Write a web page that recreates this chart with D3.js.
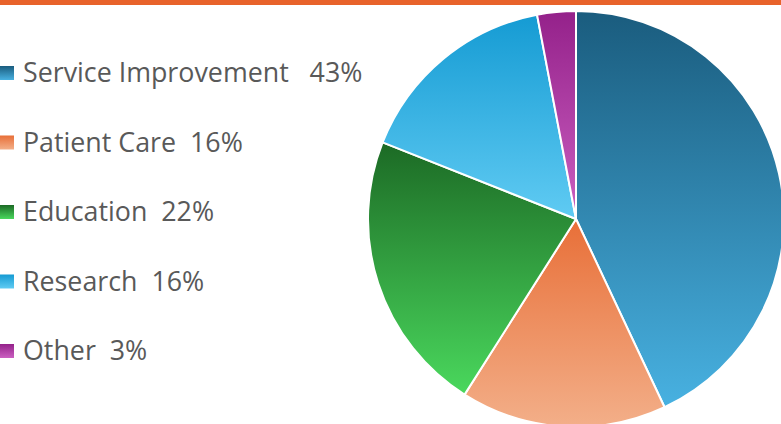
<!DOCTYPE html>
<html>
<head>
<meta charset="utf-8">
<script src="https://cdn.jsdelivr.net/npm/d3@7"></script>
<style>
  html, body { margin: 0; padding: 0; background: #fff; }
  svg { display: block; }
</style>
</head>
<body>
<svg id="chart" width="781" height="424"></svg>
<script>
// Share of projects by category
const categories = ["Service Improvement", "Patient Care", "Education", "Research", "Other"];
const shares = [43, 16, 22, 16, 3];
const labelGaps = ["   ", "  ", "  ", "  ", "  "];
// Gradient stops per slice: [top colour, bottom colour]
const topColors = ["#1a5c7e", "#e86f38", "#1c6a25", "#159bd3", "#94218a"];
const bottomColors = ["#48b1e1", "#f3af89", "#4ad85d", "#60cbf3", "#cb60c1"];

const W = 781, H = 424;
const svg = d3.select("#chart");
const defs = svg.append("defs");

categories.forEach((c, i) => {
  const g = defs.append("linearGradient")
    .attr("id", "grad" + i)
    .attr("x1", 0).attr("y1", 0).attr("x2", 0).attr("y2", 1);
  g.append("stop").attr("offset", "0%").attr("stop-color", topColors[i]);
  g.append("stop").attr("offset", "100%").attr("stop-color", bottomColors[i]);
});

// Orange rule along the top edge
svg.append("rect")
  .attr("x", 0).attr("y", 0).attr("width", W).attr("height", 5)
  .attr("fill", "#e8632b");

// Pie
const cx = 576, cy = 219, radius = 208;
const pie = d3.pie().sort(null).value(d => d);
const arc = d3.arc().innerRadius(0).outerRadius(radius);

svg.append("g")
  .attr("transform", `translate(${cx},${cy})`)
  .selectAll("path")
  .data(pie(shares))
  .join("path")
  .attr("d", arc)
  .attr("fill", (d, i) => `url(#grad${i})`)
  .attr("stroke", "#fff")
  .attr("stroke-width", 2)
  .attr("stroke-linejoin", "round");

// Legend
const rowY = d3.scalePoint().domain(categories).range([73, 351]);
const legend = svg.append("g");
const rows = legend.selectAll("g")
  .data(categories)
  .join("g")
  .attr("transform", d => `translate(0,${rowY(d)})`);

rows.append("rect")
  .attr("x", 0).attr("y", -7).attr("width", 14).attr("height", 14)
  .attr("fill", (d, i) => `url(#grad${i})`);

rows.append("text")
  .attr("x", 23)
  .attr("y", 9)
  .attr("font-family", "'Open Sans', sans-serif")
  .attr("font-size", 26.8)
  .attr("fill", "#595959")
  .style("white-space", "pre")
  .text((d, i) => d + labelGaps[i] + shares[i] + "%");
</script>
</body>
</html>
